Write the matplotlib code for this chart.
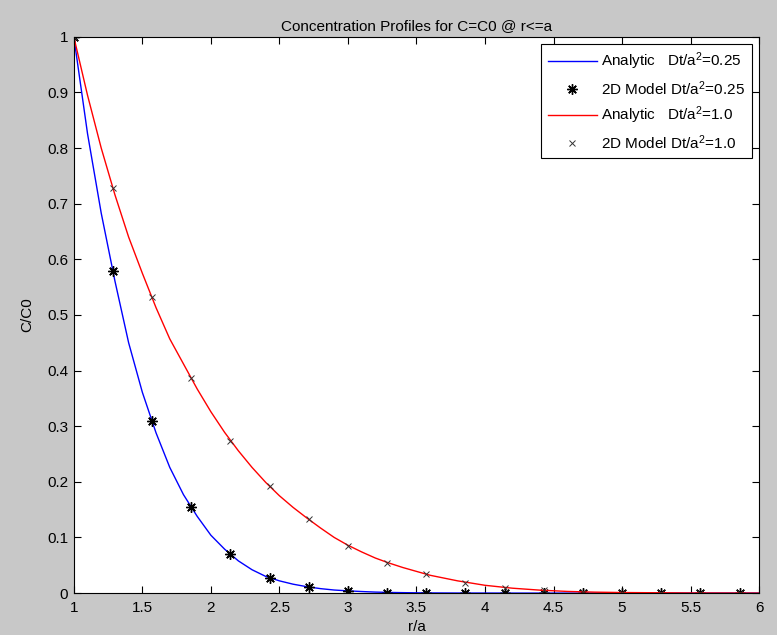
import matplotlib
matplotlib.use("Agg")
import matplotlib.pyplot as plt

plt.rcParams['font.family'] = ['Liberation Sans', 'DejaVu Sans']
plt.rcParams['mathtext.default'] = 'regular'
plt.rcParams['font.size'] = 11

# analytic curves
r_curve = [1.0, 1.1, 1.2, 1.3, 1.4, 1.5, 1.6, 1.7, 1.8, 1.9, 2.0, 2.1, 2.2, 2.3,
           2.4, 2.5, 2.6, 2.7, 2.8, 2.9, 3.0, 3.1, 3.2, 3.3, 3.4, 3.5, 3.6, 3.7,
           3.8, 3.9, 4.0, 4.2, 4.4, 4.6, 4.8, 5.0, 5.5, 6.0]
c_analytic_025 = [1.0, 0.826, 0.683, 0.561, 0.45, 0.361, 0.288, 0.226, 0.177, 0.138,
                  0.104, 0.079, 0.058, 0.042, 0.030, 0.022, 0.016, 0.0115, 0.008,
                  0.0055, 0.004, 0.0028, 0.0018, 0.0012, 0.0008, 0.0005, 0.0003,
                  0.0002, 0.0001, 0.0001, 0.0001, 0.0, 0.0, 0.0, 0.0, 0.0, 0.0, 0.0]
c_analytic_10 = [1.0, 0.895, 0.80, 0.716, 0.64, 0.575, 0.513, 0.457, 0.412, 0.367,
                 0.326, 0.289, 0.256, 0.226, 0.199, 0.175, 0.154, 0.135, 0.117, 0.10,
                 0.086, 0.074, 0.063, 0.054, 0.046, 0.039, 0.032, 0.027, 0.022, 0.018,
                 0.014, 0.0088, 0.0053, 0.003, 0.0017, 0.001, 0.0002, 0.0]

# 2D model points
r_model = [1.0, 1.286, 1.571, 1.857, 2.143, 2.429, 2.714, 3.0, 3.286, 3.571,
           3.857, 4.143, 4.429, 4.714, 5.0, 5.286, 5.571, 5.857]
c_model_025 = [1.0, 0.579, 0.309, 0.155, 0.070, 0.028, 0.011, 0.004, 0.001, 0.0003,
               0.0, 0.0, 0.0, 0.0, 0.0, 0.0, 0.0, 0.0]
c_model_10 = [1.0, 0.728, 0.533, 0.386, 0.274, 0.192, 0.134, 0.0845, 0.0545, 0.034,
              0.0185, 0.010, 0.005, 0.0025, 0.001, 0.0005, 0.0002, 0.0001]

fig = plt.figure(figsize=(7.77, 6.35), dpi=100, facecolor='#c8c8c8')
ax = fig.add_axes([0.095, 0.066, 0.882, 0.876])

ax.plot(r_curve, c_analytic_025, color='#0000ff', lw=1.0,
        label='Analytic   Dt/a$^2$=0.25')
ax.plot(r_model, c_model_025, ls='none', marker=(8, 2, 0), ms=7.5, mew=1.0,
        color='k', label='2D Model Dt/a$^2$=0.25')
ax.plot(r_curve, c_analytic_10, color='#ff0000', lw=1.0,
        label='Analytic   Dt/a$^2$=1.0')
ax.plot(r_model, c_model_10, ls='none', marker='x', ms=5, mew=0.7,
        color='#333333', label='2D Model Dt/a$^2$=1.0')

ax.set_xlim(1, 6)
ax.set_ylim(0, 1)
ax.set_xticks([1, 1.5, 2, 2.5, 3, 3.5, 4, 4.5, 5, 5.5, 6])
ax.set_xticklabels(['1', '1.5', '2', '2.5', '3', '3.5', '4', '4.5', '5', '5.5', '6'])
ax.set_yticks([0, 0.1, 0.2, 0.3, 0.4, 0.5, 0.6, 0.7, 0.8, 0.9, 1])
ax.set_yticklabels(['0', '0.1', '0.2', '0.3', '0.4', '0.5', '0.6', '0.7', '0.8', '0.9', '1'])
ax.tick_params(direction='in', top=True, right=True, length=5, width=0.8,
               labelsize=11)
ax.tick_params(axis='x', pad=6)
ax.tick_params(axis='y', pad=4)
for s in ax.spines.values():
    s.set_linewidth(0.8)

ax.set_title('Concentration Profiles for C=C0 @ r<=a', fontsize=11, pad=5)
ax.set_xlabel('r/a', labelpad=3)
ax.set_ylabel('C/C0', labelpad=9)

leg = ax.legend(loc='upper right', fancybox=False, edgecolor='k', framealpha=1,
                handlelength=3.2, labelspacing=0.45, borderaxespad=0.45,
                handletextpad=0.3, borderpad=0.45, numpoints=1, fontsize=11)
leg.get_frame().set_linewidth(0.8)

fig.savefig('out.png', dpi=100, facecolor=fig.get_facecolor())
